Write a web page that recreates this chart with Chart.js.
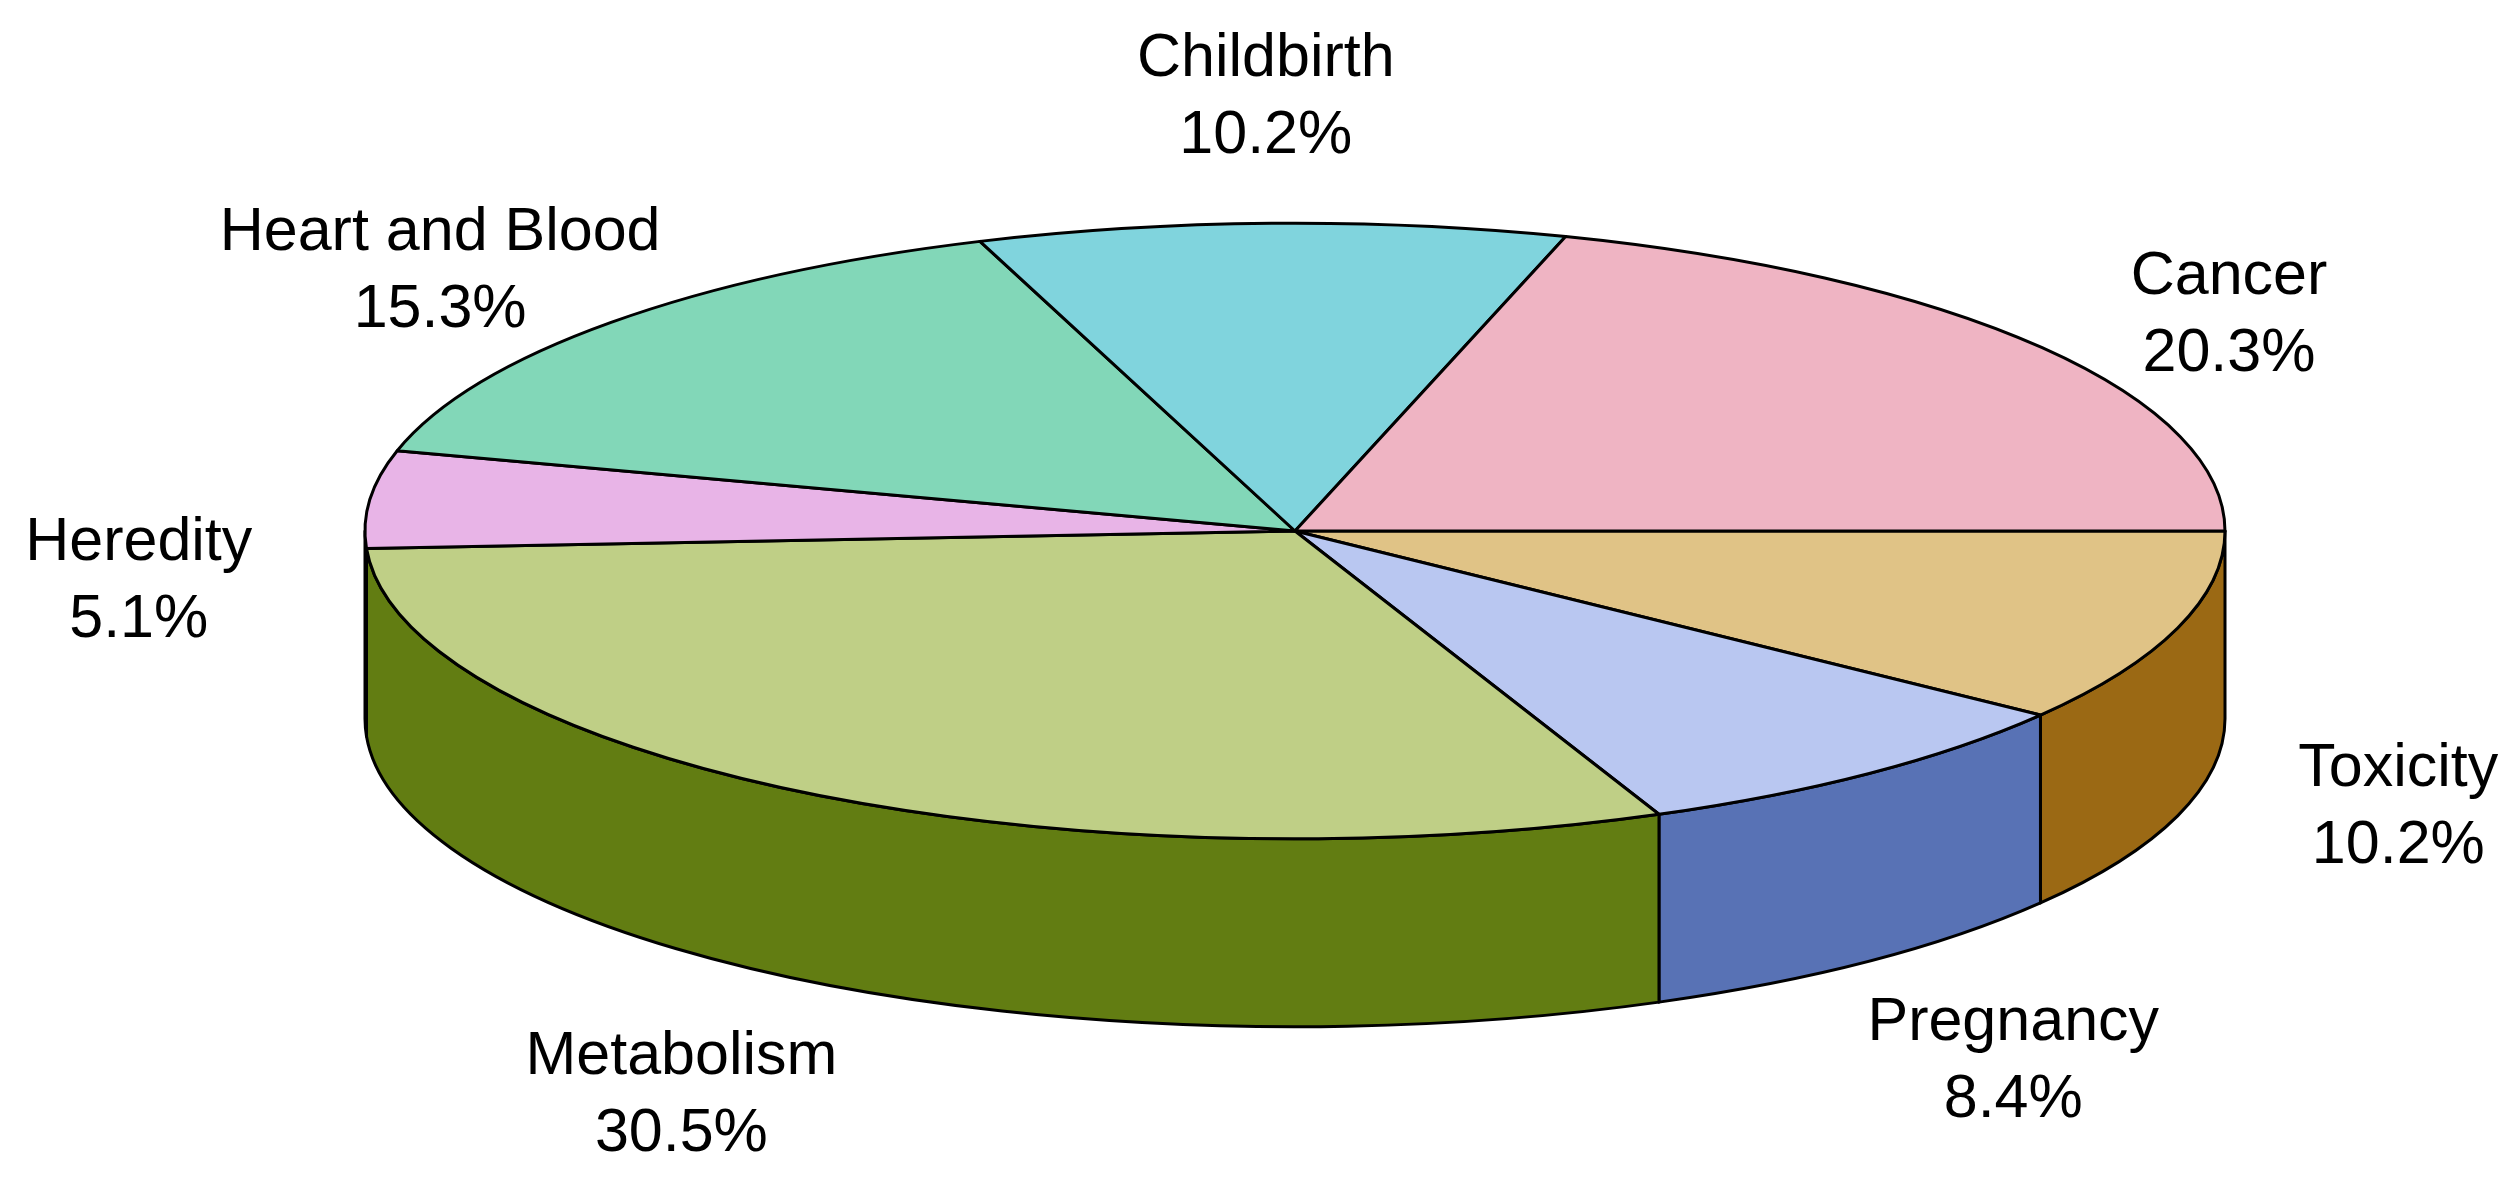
<!DOCTYPE html>
<html>
<head>
<meta charset="utf-8">
<script src="https://cdn.jsdelivr.net/npm/chart.js@4/dist/chart.umd.min.js"></script>
<style>
  html, body { margin: 0; padding: 0; background: #ffffff; }
  canvas { display: block; }
</style>
</head>
<body>
<canvas id="c" width="2520" height="1182"></canvas>
<script>
// ---- data (slices listed clockwise, starting at 3 o'clock) ----
const categories = ["Toxicity", "Pregnancy", "Metabolism", "Heredity", "Heart and Blood", "Childbirth", "Cancer"];
const percentages = [10.2, 8.4, 30.5, 5.1, 15.3, 10.2, 20.3];
const topColors  = ["#E0C386", "#B9C7F1", "#BFCF86", "#E8B4E7", "#82D7B8", "#80D4DD", "#EFB4C3"];
const sideColors = ["#9B6914", "#5872B5", "#627D12", "#A45AA2", "#2E9A72", "#2A9AA6", "#B05A70"];

// ---- styling of the 3D projection ----
const TILT = 0.331;      // vertical / horizontal radius of the top ellipse
const DEPTH = 0.202;     // wall height as a fraction of the horizontal radius
const FONT = '61px "Liberation Sans", Arial, sans-serif';
const LINE_GAP = 77;

const pie3d = {
  id: 'pie3d',
  beforeDraw(chart) {
    const ctx = chart.ctx;
    ctx.save();
    ctx.fillStyle = '#ffffff';
    ctx.fillRect(0, 0, chart.width, chart.height);
    ctx.restore();
  },
  beforeDatasetsDraw(chart) {
    const ctx = chart.ctx;
    const meta = chart.getDatasetMeta(0);
    const arcs = meta.data;
    if (!arcs.length) return false;
    const cx = arcs[0].x, cy = arcs[0].y;
    const rx = arcs[0].outerRadius, ry = rx * TILT, h = rx * DEPTH;

    ctx.save();
    ctx.lineWidth = 3;
    ctx.strokeStyle = '#000000';
    ctx.lineJoin = 'round';

    // side walls (front half only: angles 0..PI)
    arcs.forEach((arc, i) => {
      let s = arc.startAngle, e = arc.endAngle;
      const ranges = [[0, Math.PI], [2 * Math.PI, 3 * Math.PI]];
      ranges.forEach(([lo, hi]) => {
        const a = Math.max(s, lo), b = Math.min(e, hi);
        if (b - a <= 1e-6) return;
        ctx.beginPath();
        ctx.ellipse(cx, cy, rx, ry, 0, a, b, false);
        ctx.lineTo(cx + rx * Math.cos(b), cy + h + ry * Math.sin(b));
        ctx.ellipse(cx, cy + h, rx, ry, 0, b, a, true);
        ctx.closePath();
        ctx.fillStyle = sideColors[i];
        ctx.fill();
        ctx.stroke();
      });
    });

    // top faces
    arcs.forEach((arc, i) => {
      ctx.beginPath();
      ctx.moveTo(cx, cy);
      ctx.ellipse(cx, cy, rx, ry, 0, arc.startAngle, arc.endAngle, false);
      ctx.closePath();
      ctx.fillStyle = topColors[i];
      ctx.fill();
      ctx.stroke();
    });

    // labels
    ctx.fillStyle = '#000000';
    ctx.font = FONT;
    ctx.textAlign = 'center';
    ctx.textBaseline = 'alphabetic';
    const vals = chart.data.datasets[0].data;
    arcs.forEach((arc, i) => {
      const mid = (arc.startAngle + arc.endAngle) / 2;
      const lx = cx + 1.25 * rx * Math.cos(mid);
      const ly = cy + 0.4 * ry + 1.755 * ry * Math.sin(mid);
      ctx.fillText(chart.data.labels[i], lx, ly - LINE_GAP / 2);
      ctx.fillText(vals[i].toFixed(1) + '%', lx, ly + LINE_GAP / 2);
    });

    ctx.restore();
    return false; // skip the flat default arcs
  }
};

new Chart(document.getElementById('c'), {
  type: 'pie',
  data: {
    labels: categories,
    datasets: [{
      data: percentages,
      backgroundColor: topColors,
      borderColor: '#000000',
      borderWidth: 0
    }]
  },
  options: {
    responsive: false,
    devicePixelRatio: 1,
    animation: false,
    rotation: 90,
    radius: 930,
    layout: { padding: { left: 70, right: 0, top: 0, bottom: 120 } },
    plugins: {
      legend: { display: false },
      tooltip: { enabled: false }
    }
  },
  plugins: [pie3d]
});
</script>
</body>
</html>
